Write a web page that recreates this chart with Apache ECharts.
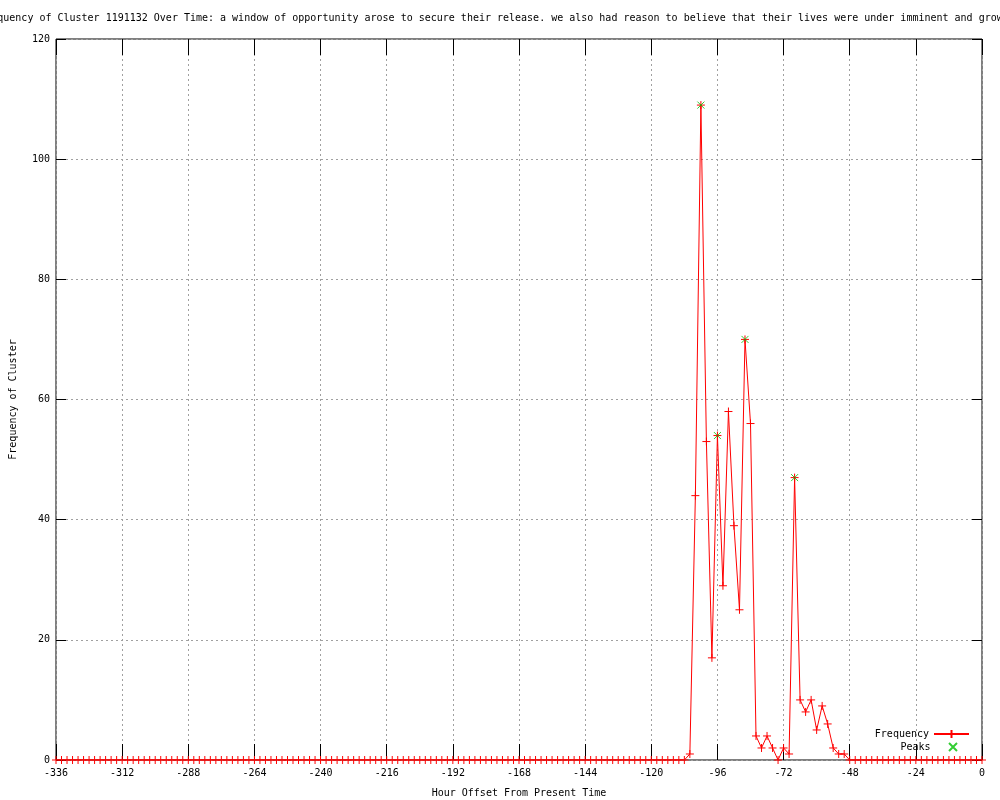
<!DOCTYPE html>
<html>
<head>
<meta charset="utf-8">
<script src="https://cdn.jsdelivr.net/npm/echarts@6/dist/echarts.min.js"></script>
<style>html,body{margin:0;padding:0;background:#fff}#c{width:1000px;height:800px}</style>
</head>
<body>
<div id="c"></div>
<script>
// Hour offsets: every 2 hours from -336 to 0
const hourStart = -336, hourStep = 2;
// Frequency values (one per 2-hour bin, -336 .. 0)
const frequency = [
  0,0,0,0,0,0,0,0,0,0,0,0,0,0,0,0,0,0,0,0,   // -336 .. -298
  0,0,0,0,0,0,0,0,0,0,0,0,0,0,0,0,0,0,0,0,   // -296 .. -258
  0,0,0,0,0,0,0,0,0,0,0,0,0,0,0,0,0,0,0,0,   // -256 .. -218
  0,0,0,0,0,0,0,0,0,0,0,0,0,0,0,0,0,0,0,0,   // -216 .. -178
  0,0,0,0,0,0,0,0,0,0,0,0,0,0,0,0,0,0,0,0,   // -176 .. -138
  0,0,0,0,0,0,0,0,0,0,0,0,0,0,0,            // -136 .. -108
  1,44,109,53,17,54,29,58,39,25,             // -106 .. -88
  70,56,4,2,4,2,0,2,1,47,                    // -86 .. -68
  10,8,10,5,9,6,2,1,1,                       // -66 .. -50
  0,0,0,0,0,0,0,0,0,0,0,0,0,0,0,0,0,0,0,0,0,0,0,0,0 // -48 .. 0
];
const peakHours = [-102, -96, -86, -68];
const peakValues = [109, 54, 70, 47];
const xTicks = { min: -336, max: 0, interval: 24 };
const yTicks = { min: 0, max: 120, interval: 20 };
const titleText = "Frequency of Cluster 1191132 Over Time: a window of opportunity arose to secure their release. we also had reason to believe that their lives were under imminent and growing";

const freqData = frequency.map((v, i) => [hourStart + i * hourStep, v]);
const peakData = peakHours.map((h, i) => [h, peakValues[i]]);

const FONT = "DejaVu Sans Mono";
const txt = { fontFamily: FONT, fontSize: 10, color: '#000' };
const plusSym = 'path://M0,5L10,5M5,0L5,10';
const crossSym = 'path://M0,0L10,10M10,0L0,10';
const noLine = { show: false, onZero: false };

const chart = echarts.init(document.getElementById('c'), null, { renderer: 'canvas' });
chart.setOption({
  backgroundColor: '#fff',
  animation: false,
  title: {
    text: titleText, left: 'center', top: 13, padding: 0,
    textStyle: { fontFamily: FONT, fontSize: 10, fontWeight: 'normal', color: '#000' }
  },
  grid: { left: 56, right: 18, top: 39, bottom: 40, outerBoundsMode: 'none', containLabel: false,
          show: true, borderColor: '#000', borderWidth: 1, backgroundColor: 'transparent' },
  legend: [
    { data: ['Frequency'], right: 30, top: 729, padding: 0, align: 'right', itemWidth: 35, itemHeight: 10,
      textStyle: txt, selectedMode: false },
    { data: ['Peaks'], right: 42, top: 742, padding: 0, align: 'right', itemWidth: 35, itemHeight: 8,
      textStyle: txt, selectedMode: false }
  ],
  xAxis: [
    { type: 'value', position: 'bottom', min: xTicks.min, max: xTicks.max, interval: xTicks.interval,
      name: 'Hour Offset From Present Time', nameLocation: 'middle', nameGap: 28,
      nameTextStyle: txt,
      axisLine: noLine,
      axisTick: { show: true, inside: true, length: 16, lineStyle: { color: '#000' } },
      axisLabel: Object.assign({ margin: 8 }, txt),
      splitLine: { show: true, lineStyle: { color: '#a0a0a0', type: [2, 3], width: 1 } } },
    { type: 'value', position: 'top', min: xTicks.min, max: xTicks.max, interval: xTicks.interval,
      axisLine: noLine, axisLabel: { show: false }, splitLine: { show: false },
      axisTick: { show: true, inside: true, length: 16, lineStyle: { color: '#000' } } }
  ],
  yAxis: [
    { type: 'value', position: 'left', min: yTicks.min, max: yTicks.max, interval: yTicks.interval,
      name: 'Frequency of Cluster', nameLocation: 'middle', nameGap: 38, nameRotate: 90,
      nameTextStyle: txt,
      axisLine: noLine,
      axisTick: { show: true, inside: true, length: 10, lineStyle: { color: '#000' } },
      axisLabel: Object.assign({ margin: 6 }, txt),
      splitLine: { show: true, lineStyle: { color: '#a0a0a0', type: [2, 3], width: 1 } } },
    { type: 'value', position: 'right', min: yTicks.min, max: yTicks.max, interval: yTicks.interval,
      axisLine: noLine, axisLabel: { show: false }, splitLine: { show: false },
      axisTick: { show: true, inside: true, length: 10, lineStyle: { color: '#000' } } }
  ],
  series: [
    { name: 'Frequency', type: 'line', data: freqData, xAxisIndex: 0, yAxisIndex: 0,
      symbol: plusSym, symbolSize: 8, showAllSymbol: true,
      lineStyle: { color: '#ff0000', width: 1 },
      itemStyle: { color: '#ff0000', borderColor: '#ff0000', borderWidth: 1 },
      z: 3 },
    { name: 'Peaks', type: 'scatter', data: peakData, xAxisIndex: 0, yAxisIndex: 0,
      symbol: crossSym, symbolSize: 7,
      itemStyle: { color: '#00c000', borderColor: '#00c000', borderWidth: 1 },
      z: 4 }
  ]
});
</script>
</body>
</html>
